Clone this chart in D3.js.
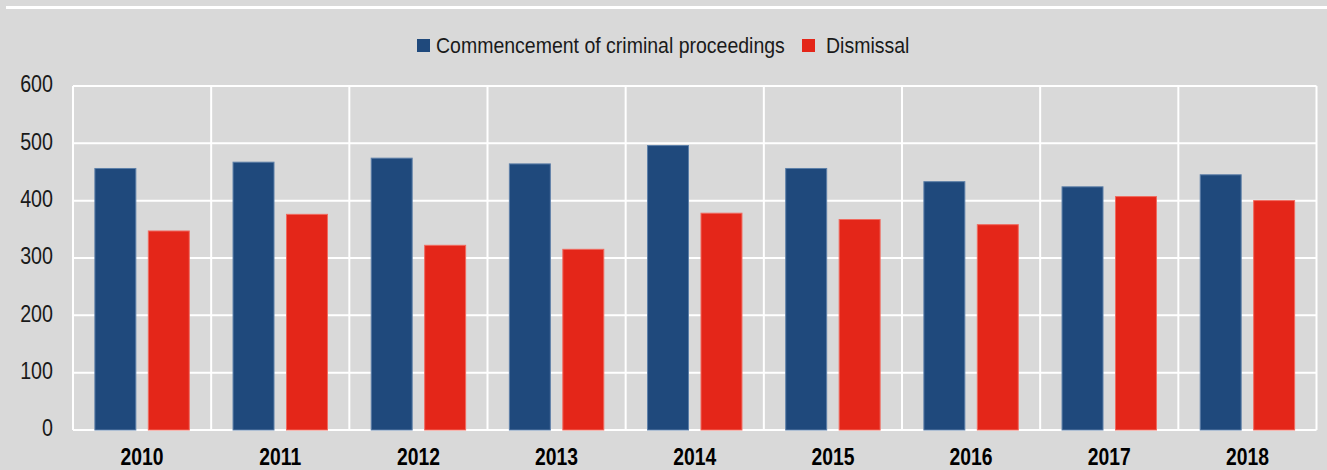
<!DOCTYPE html>
<html>
<head>
<meta charset="utf-8">
<script src="https://cdn.jsdelivr.net/npm/d3@7"></script>
<style>
  html, body { margin: 0; padding: 0; background: #d9d9d9; }
  svg { display: block; }
  .narrow { font-family: "Liberation Sans Narrow", "Arial Narrow", "Liberation Sans", Arial, sans-serif; }
</style>
</head>
<body>
<svg id="chart" width="1327" height="470"></svg>
<script>
// Criminal proceedings commenced vs. dismissals, per year
const years = ["2010", "2011", "2012", "2013", "2014", "2015", "2016", "2017", "2018"];
const commencement = [457, 468, 475, 465, 497, 457, 434, 425, 446];
const dismissal = [348, 377, 323, 316, 379, 368, 359, 408, 401];
const seriesNames = ["Commencement of criminal proceedings", "Dismissal"];
const yTicks = [0, 100, 200, 300, 400, 500, 600];

const colors = { fill: ["#1f497c", "#e42619"], edge: ["#5d7fa8", "#f06a5f"] };

const svg = d3.select("#chart");
const W = 1327, H = 470;
const plot = { left: 73, right: 1316.5, top: 86, bottom: 430 };

// squeeze text horizontally to a narrow face
function condense(sel, ratio) {
  sel.each(function () {
    const w = this.getComputedTextLength();
    d3.select(this).attr("textLength", w * ratio).attr("lengthAdjust", "spacingAndGlyphs");
  });
}

svg.append("rect").attr("width", W).attr("height", H).attr("fill", "#d9d9d9");
// white rule across the top
svg.append("rect").attr("x", 6).attr("y", 6).attr("width", W - 6).attr("height", 3).attr("fill", "#ffffff");

const x = d3.scaleBand().domain(years).range([plot.left, plot.right]).padding(0);
const x1 = d3.scaleBand().domain([0, 1]).range([0, x.bandwidth()])
  .paddingInner(0.215).paddingOuter(0.4);
const y = d3.scaleLinear().domain([0, 600]).range([plot.bottom, plot.top]);

// horizontal grid
svg.append("g").selectAll("line").data(yTicks).join("line")
  .attr("x1", plot.left).attr("x2", plot.right)
  .attr("y1", d => y(d)).attr("y2", d => y(d))
  .attr("stroke", "#ffffff").attr("stroke-width", 2);

// vertical separators between years
const seps = years.map(d => x(d)).concat([plot.right]);
svg.append("g").selectAll("line").data(seps).join("line")
  .attr("x1", d => d).attr("x2", d => d)
  .attr("y1", plot.top).attr("y2", plot.bottom)
  .attr("stroke", "#ffffff").attr("stroke-width", 2);

// bars
const rows = years.map((yr, i) => ({ year: yr, values: [commencement[i], dismissal[i]] }));
const groups = svg.append("g").selectAll("g").data(rows).join("g")
  .attr("transform", d => `translate(${x(d.year)},0)`);
groups.selectAll("rect").data(d => d.values.map((v, k) => ({ v, k }))).join("rect")
  .attr("x", d => x1(d.k) + 0.5)
  .attr("width", x1.bandwidth() - 1)
  .attr("y", d => y(d.v) + 0.5)
  .attr("height", d => y(0) - y(d.v) - 0.5)
  .attr("fill", d => colors.fill[d.k])
  .attr("stroke", d => colors.edge[d.k])
  .attr("stroke-width", 1);

// y axis labels
const yAxis = d3.axisLeft(y).tickValues(yTicks).tickSize(0).tickPadding(0);
const gy = svg.append("g").attr("class", "narrow").attr("transform", `translate(53,-2)`).call(yAxis);
gy.select(".domain").remove();
gy.selectAll("text").attr("font-size", 24).attr("fill", "#1a1a1a")
  .attr("font-family", null).call(condense, 0.82);

// x axis labels
const xAxis = d3.axisBottom(x).tickSize(0).tickPadding(0);
const gx = svg.append("g").attr("class", "narrow").attr("transform", `translate(0,${plot.bottom})`).call(xAxis);
gx.select(".domain").remove();
gx.selectAll("text").attr("font-size", 23).attr("font-weight", "bold").attr("fill", "#000")
  .attr("font-family", null).attr("dy", null).attr("y", 35).call(condense, 0.84);

// legend
const legend = svg.append("g").attr("class", "narrow");
const legendPos = [{ sx: 417, tx: 436 }, { sx: 802, tx: 826 }];
seriesNames.forEach((name, k) => {
  legend.append("rect").attr("x", legendPos[k].sx).attr("y", 39).attr("width", 13).attr("height", 13)
    .attr("fill", colors.fill[k]);
  legend.append("text").attr("x", legendPos[k].tx).attr("y", 53)
    .attr("font-size", 22).attr("fill", "#1a1a1a").text(name).call(condense, 0.886);
});
</script>
</body>
</html>
